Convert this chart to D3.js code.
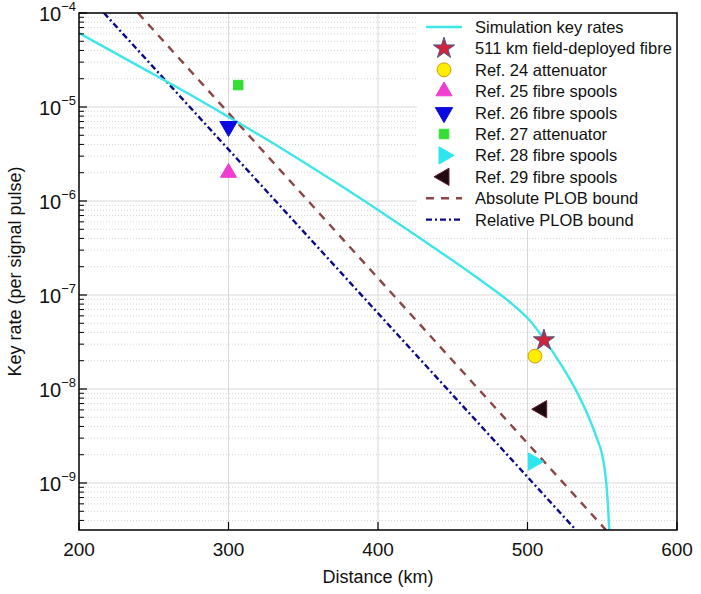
<!DOCTYPE html>
<html><head><meta charset="utf-8">
<script src="https://cdn.jsdelivr.net/npm/d3@7"></script>
<style>
body{margin:0;background:#fff;}
svg{display:block;font-family:"Liberation Sans",Arial,Helvetica,sans-serif;}
</style></head>
<body><svg id="c" width="701" height="594"></svg>
<script>
// ---- data ----
const simDistance = [200, 240, 270, 300, 335, 370, 400, 435, 468, 490, 502, 511, 522, 533, 541, 547, 549.5, 551.5, 552.8, 553.8, 554.7];
const simRate = [6.12e-5, 2.72e-5, 1.48e-5, 7.85e-6, 3.67e-6, 1.64e-6, 8.04e-7, 3.39e-7, 1.46e-7, 7.94e-8, 5.25e-8, 3.39e-8, 1.86e-8, 9.33e-9, 5.01e-9, 2.82e-9, 2.14e-9, 1.45e-9, 9.53e-10, 5.83e-10, 3.16e-10];
const absPlobDistance = [239.5, 552.5];
const absPlobRate = [1e-4, 3.16e-10];
const relPlobDistance = [216.7, 532.4];
const relPlobRate = [1e-4, 3.16e-10];
const pointLabels = ["511 km field-deployed fibre","Ref. 24 attenuator","Ref. 25 fibre spools","Ref. 26 fibre spools","Ref. 27 attenuator","Ref. 28 fibre spools","Ref. 29 fibre spools"];
const pointDistance = [511, 505, 300, 300, 306.5, 504, 509.5];
const pointRate = [3.3e-8, 2.24e-8, 2.0e-6, 6.2e-6, 1.71e-5, 1.69e-9, 6.1e-9];
const xTicks = [200, 300, 400, 500, 600];
const yTickExp = [-9, -8, -7, -6, -5, -4];

// ---- layout ----
const svg = d3.select("#c");
const L = 79, R = 677, T = 13, B = 530;
const x = d3.scaleLinear().domain([200, 600]).range([L, R]);
const y = d3.scaleLog().domain([Math.pow(10, -9.5), 1e-4]).range([B, T]);

// grid
const g = svg.append("g");
const minorVals = [];
for (let e = -10; e <= -5; e++) for (let m = 2; m <= 9; m++) {
  const v = m * Math.pow(10, e);
  if (v >= y.domain()[0] && v < 1e-4) minorVals.push(v);
}
g.selectAll(".mg").data(minorVals).join("line")
  .attr("x1", L).attr("x2", R).attr("y1", d => y(d)).attr("y2", d => y(d))
  .attr("stroke", "#d4d4d4").attr("stroke-width", 1).attr("stroke-dasharray", "1,2");
g.selectAll(".Mg").data(yTickExp).join("line")
  .attr("x1", L).attr("x2", R).attr("y1", d => y(Math.pow(10, d))).attr("y2", d => y(Math.pow(10, d)))
  .attr("stroke", "#d8d8d8").attr("stroke-width", 1);
g.selectAll(".xg").data(xTicks.slice(1, -1)).join("line")
  .attr("x1", d => x(d)).attr("x2", d => x(d)).attr("y1", T).attr("y2", B)
  .attr("stroke", "#d8d8d8").attr("stroke-width", 1);

// legend background
svg.append("rect").attr("x", 417).attr("y", 14).attr("width", 259).attr("height", 216)
  .attr("fill", "#fff").attr("stroke", "none");

// lines
const lineGen = d3.line().x(d => x(d[0])).y(d => y(d[1]));
svg.append("clipPath").attr("id", "pc").append("rect")
  .attr("x", L).attr("y", T).attr("width", R - L).attr("height", B - T);
const lines = svg.append("g").attr("clip-path", "url(#pc)");
lines.append("path").datum(relPlobDistance.map((d, i) => [d, relPlobRate[i]]))
  .attr("d", lineGen).attr("fill", "none").attr("stroke", "#0a0a8a")
  .attr("stroke-width", 2.4).attr("stroke-dasharray", "6,3,2,3");
lines.append("path").datum(absPlobDistance.map((d, i) => [d, absPlobRate[i]]))
  .attr("d", lineGen).attr("fill", "none").attr("stroke", "#8c4545")
  .attr("stroke-width", 2.4).attr("stroke-dasharray", "8,7");
const simGen = d3.line().x(d => x(d[0])).y(d => y(d[1])).curve(d3.curveMonotoneX);
lines.append("path").datum(simDistance.map((d, i) => [d, simRate[i]]))
  .attr("d", simGen).attr("fill", "none").attr("stroke", "#3ee6ea")
  .attr("stroke-width", 2.4);

// markers
const markerStyles = [
  {type: d3.symbolStar, size: 140, fill: "#d1233c", stroke: "#4a5a8a", rot: 0},
  {type: d3.symbolCircle, size: 150, fill: "#ffee00", stroke: "#d49a00", rot: 0},
  {type: d3.symbolTriangle, size: 110, fill: "#f03cd0", stroke: "#f03cd0", rot: 0},
  {type: d3.symbolTriangle, size: 130, fill: "#0a0ae0", stroke: "#0a0ae0", rot: 180},
  {type: d3.symbolSquare, size: 90, fill: "#33dd33", stroke: "#33dd33", rot: 0},
  {type: d3.symbolTriangle, size: 130, fill: "#2ee6f0", stroke: "#2ee6f0", rot: 90},
  {type: d3.symbolTriangle, size: 130, fill: "#200810", stroke: "#6a2030", rot: -90}
];
const sym = (s, cx, cy) => `translate(${cx},${cy}) rotate(${s.rot})`;
svg.append("g").selectAll("path").data(pointDistance).join("path")
  .attr("d", (d, i) => d3.symbol().type(markerStyles[i].type).size(markerStyles[i].size)())
  .attr("transform", (d, i) => sym(markerStyles[i], x(d), y(pointRate[i])))
  .attr("fill", (d, i) => markerStyles[i].fill)
  .attr("stroke", (d, i) => markerStyles[i].stroke).attr("stroke-width", 1);

// frame
svg.append("rect").attr("x", L).attr("y", T).attr("width", R - L).attr("height", B - T)
  .attr("fill", "none").attr("stroke", "#000").attr("stroke-width", 1.5);

// y ticks
svg.append("g").selectAll("line").data(minorVals).join("line")
  .attr("x1", L).attr("x2", L + 5).attr("y1", d => y(d)).attr("y2", d => y(d))
  .attr("stroke", "#000").attr("stroke-width", 1);
svg.append("g").selectAll("line").data(yTickExp).join("line")
  .attr("x1", L).attr("x2", L + 8).attr("y1", d => y(Math.pow(10, d))).attr("y2", d => y(Math.pow(10, d)))
  .attr("stroke", "#000").attr("stroke-width", 1.2);
const yl = svg.append("g").selectAll("text").data(yTickExp).join("text")
  .attr("x", 76).attr("y", d => y(Math.pow(10, d)) + 8)
  .attr("text-anchor", "end").attr("font-size", 20).attr("fill", "#111");
yl.append("tspan").text("10");
yl.append("tspan").attr("dy", -10).attr("font-size", 13).text(d => "\u2212" + Math.abs(d));

// x ticks
svg.append("g").selectAll("line").data(xTicks).join("line")
  .attr("x1", d => x(d)).attr("x2", d => x(d)).attr("y1", B).attr("y2", B - 8)
  .attr("stroke", "#000").attr("stroke-width", 1.2);
svg.append("g").selectAll("text").data(xTicks).join("text")
  .attr("x", d => x(d)).attr("y", 556).attr("text-anchor", "middle")
  .attr("font-size", 19).attr("fill", "#111").text(d => d);

// axis titles
svg.append("text").attr("x", (L + R) / 2).attr("y", 583).attr("text-anchor", "middle")
  .attr("font-size", 18).attr("fill", "#111").text("Distance (km)");
svg.append("text").attr("transform", `translate(21,${(T + B) / 2}) rotate(-90)`)
  .attr("text-anchor", "middle").attr("font-size", 18).attr("fill", "#111")
  .text("Key rate (per signal pulse)");

// legend
const lg = svg.append("g");
const rowY = i => 27 + i * 21.4;
const legendNames = ["Simulation key rates"].concat(pointLabels, ["Absolute PLOB bound", "Relative PLOB bound"]);
lg.append("line").attr("x1", 426).attr("x2", 462).attr("y1", rowY(0)).attr("y2", rowY(0))
  .attr("stroke", "#3ee6ea").attr("stroke-width", 2.4);
lg.selectAll(".lm").data(markerStyles).join("path")
  .attr("d", s => d3.symbol().type(s.type).size(s.size)())
  .attr("transform", (s, i) => sym(s, 444, rowY(i + 1)))
  .attr("fill", s => s.fill).attr("stroke", s => s.stroke).attr("stroke-width", 1);
lg.append("line").attr("x1", 426).attr("x2", 462).attr("y1", rowY(8)).attr("y2", rowY(8))
  .attr("stroke", "#8c4545").attr("stroke-width", 2.4).attr("stroke-dasharray", "8,7");
lg.append("line").attr("x1", 426).attr("x2", 462).attr("y1", rowY(9)).attr("y2", rowY(9))
  .attr("stroke", "#0a0a8a").attr("stroke-width", 2.4).attr("stroke-dasharray", "6,3,2,3");
lg.selectAll(".lt").data(legendNames).join("text")
  .attr("x", 475).attr("y", (d, i) => rowY(i) + 6)
  .attr("font-size", 16.5).attr("fill", "#111").text(d => d);
</script></body></html>
